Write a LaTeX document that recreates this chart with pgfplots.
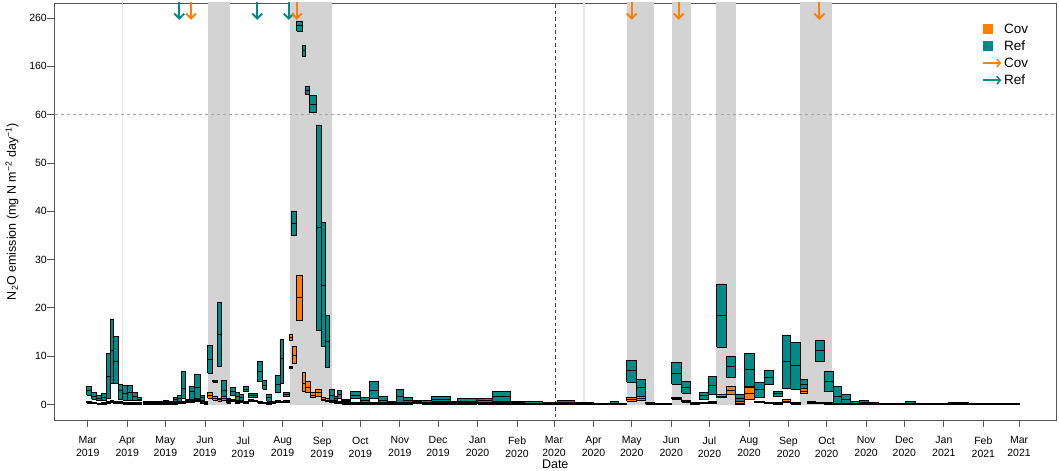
\documentclass[border=0pt]{standalone}
\usepackage{fontspec}
\setmainfont{Liberation Sans}
\usepackage{pgfplots}
\usepackage{pgfplotstable}
\pgfplotsset{compat=1.18}
\usetikzlibrary{arrows.meta,calc}
\definecolor{covc}{HTML}{FF7F00}
\definecolor{refc}{HTML}{008B8B}
\definecolor{bandc}{HTML}{D3D3D3}
\definecolor{axc}{HTML}{555555}

% Ref: start day, end day (days since 1 Mar 2019), lower quartile, median, upper quartile
\pgfplotstableread{
a b lo med hi
-0.8 3.1 1.97 3.00 3.83
3.1 7.1 1.08 1.76 2.44
7.1 11.0 0.79 1.35 1.97
11.0 14.4 0.93 1.55 2.32
14.4 18.1 1.28 5.90 10.6
18.1 20.1 4.39 11.28 17.7
20.1 24.0 4.39 9.0 14.04
24.0 27.5 1.08 3.0 4.18
27.5 31.4 0.93 2.38 3.98
31.4 35.0 0.93 2.44 3.98
35.0 39.2 0.93 1.61 2.44
39.2 42.4 0.79 1.14 1.41
43.4 48.9 0.31 0.5 0.72
48.9 54.4 0.21 0.4 0.62
54.4 59.3 0.31 0.5 0.72
59.3 63.3 0.46 0.7 0.93
63.3 67.2 0.31 0.5 0.72
67.2 70.3 0.58 1.0 1.49
70.3 73.8 0.58 1.28 1.97
73.8 76.4 1.28 3.42 6.79
76.4 79.7 0.41 0.7 0.93
79.7 83.7 1.08 2.65 3.83
83.7 88.1 1.28 3.56 6.21
88.1 91.5 0.93 1.45 1.97
91.5 94.2 0.31 0.5 0.72
94.2 98.1 6.46 9.36 12.17
98.1 102.0 4.60 4.80 5.01
102.0 105.2 7.83 14.6 21.08
105.2 109.1 1.14 3.0 5.07
109.1 111.7 0.31 0.5 0.72
111.7 115.6 1.97 2.80 3.56
115.6 118.8 0.93 1.61 2.44
118.8 122.1 0.93 1.49 2.11
122.1 126.1 2.80 3.2 3.69
126.1 130.0 1.41 1.82 2.32
130.0 133.4 1.41 1.82 2.32
133.4 137.4 4.72 6.94 9.0
137.4 140.5 3.15 4.04 5.07
140.5 144.3 0.72 1.41 2.11
144.3 147.0 0.31 0.5 0.72
147.0 150.9 2.53 4.24 6.11
150.9 153.5 4.39 9.57 13.5
153.5 158.0 1.61 2.11 2.59
158.0 160.4 7.45 7.66 7.87
159.6 164.1 34.95 37.5 40.06
164.1 168.5 233 244 254
168.5 170.5 180 193 204
170.5 174.0 103 111 119
174.0 179.2 65 82 99
179.2 183.1 15.28 36.6 57.87
183.1 186.3 11.97 24.74 37.72
186.3 189.7 7.70 13.0 18.53
189.7 193.3 0.93 1.97 3.15
193.3 196.2 0.93 1.3 1.76
196.2 199.4 1.28 2.07 2.94
199.4 206.4 0.62 0.9 1.14
206.4 214.3 1.24 1.97 2.69
214.3 221.0 0.37 0.9 1.41
221.0 228.1 1.28 3.0 4.72
228.1 235.2 0.1 0.79 1.61
235.2 242.0 0.25 0.4 0.58
242.0 247.7 0.25 1.76 3.15
247.7 255.1 0.37 0.93 1.49
255.1 262.2 0.25 0.5 0.72
262.2 270.0 0.1 0.52 0.93
270.0 284.4 0.58 1.08 1.61
284.4 290.4 0.25 0.4 0.58
290.4 305.2 0.25 0.72 1.28
306.1 317.9 0.37 0.83 1.28
317.9 332.0 0.72 1.61 2.65
332.0 342.5 0.21 0.4 0.58
342.5 356.4 0.1 0.35 0.58
356.4 368.8 0.1 0.3 0.52
368.8 382.1 0.04 0.52 0.93
382.1 396.9 0.04 0.2 0.41
396.9 410.0 0.0 0.15 0.31
410.0 416.3 0.1 0.35 0.62
416.3 423.1 0.0 0.15 0.3
423.1 430.9 4.60 7.0 9.21
430.9 438.0 1.28 3.48 5.28
438.0 444.5 0.04 0.2 0.37
444.5 458.4 0.0 0.1 0.21
458.4 466.2 4.18 6.46 8.65
466.2 473.3 2.32 3.56 4.72
473.3 480.1 0.0 0.25 0.52
480.1 486.7 1.14 1.82 2.53
486.7 493.7 2.11 4.04 5.90
493.7 501.0 11.84 18.53 24.95
501.0 508.1 5.55 7.83 10.04
508.1 515.2 0.46 1.28 2.17
515.2 523.0 3.69 7.29 10.6
523.0 530.9 1.49 3.15 4.60
530.9 538.2 4.24 5.63 7.14
538.2 545.2 1.76 2.32 2.80
545.2 551.8 3.35 8.86 14.39
551.8 559.1 3.15 8.03 12.88
559.1 564.8 2.32 4.18 5.28
564.8 570.9 0.21 0.35 0.52
570.9 577.9 9.0 11.14 13.21
577.9 584.8 2.65 4.72 6.79
584.8 591.8 0.25 1.61 3.69
591.8 598.9 0.25 1.14 2.11
598.9 605.6 0.1 0.3 0.58
605.6 612.7 0.1 0.5 0.93
612.7 620.6 0.0 0.2 0.41
620.6 641.5 0.0 0.1 0.25
641.5 649.4 0.1 0.35 0.62
649.4 675.5 0.0 0.1 0.2
675.5 691.2 0.1 0.25 0.41
691.2 711.0 0.0 0.1 0.2
711.0 731.0 0.0 0.1 0.2
}\reftbl

% Cov
\pgfplotstableread{
a b lo med hi
-0.8 3.1 0.31 0.5 0.72
3.1 7.1 0.21 0.35 0.52
7.1 11.0 0.05 0.15 0.3
11.0 14.4 0.1 0.25 0.41
14.4 18.1 0.21 0.4 0.62
18.1 20.1 0.41 0.6 0.83
20.1 24.0 0.21 0.4 0.62
24.0 27.5 0.31 0.5 0.72
27.5 31.4 0.1 0.3 0.52
31.4 35.0 0.1 0.3 0.52
35.0 39.2 0.1 0.3 0.52
39.2 42.4 0.1 0.25 0.41
43.4 48.9 0.1 0.3 0.52
48.9 54.4 0.1 0.25 0.41
54.4 59.3 0.1 0.3 0.52
59.3 63.3 0.1 0.3 0.52
63.3 67.2 0.1 0.25 0.41
67.2 70.3 0.1 0.3 0.52
70.3 73.8 0.21 0.35 0.52
73.8 76.4 0.31 0.5 0.72
76.4 79.7 0.58 0.85 1.14
79.7 83.7 0.41 0.6 0.83
83.7 88.1 0.58 0.85 1.14
88.1 91.5 0.31 0.5 0.72
91.5 94.2 0.1 0.3 0.52
94.2 98.1 1.28 1.82 2.59
98.1 102.0 0.93 1.28 1.61
102.0 105.2 0.72 1.0 1.35
105.2 109.1 0.93 1.3 1.76
109.1 111.7 0.79 1.0 1.28
111.7 115.6 0.58 0.85 1.14
115.6 118.8 0.31 0.5 0.72
118.8 122.1 0.41 0.6 0.83
122.1 126.1 0.21 0.4 0.62
126.1 130.0 0.58 0.85 1.14
130.0 133.4 0.58 0.75 0.93
133.4 137.4 0.25 0.4 0.58
137.4 140.5 0.21 0.35 0.52
140.5 144.3 0.0 0.25 0.52
144.3 147.0 0.25 0.4 0.58
147.0 150.9 0.37 0.65 0.93
150.9 153.5 0.46 0.6 0.72
153.5 158.0 0.52 0.65 0.79
158.0 160.4 13.2 13.9 14.6
160.4 164.1 8.53 10.25 12.11
164.1 168.5 17.35 22.11 26.81
168.5 171.0 2.65 4.39 6.58
171.0 174.5 2.44 3.56 4.87
174.5 179.0 1.49 1.97 2.44
179.0 183.1 1.61 2.44 3.21
183.1 186.3 0.79 1.1 1.49
186.3 189.4 0.58 0.9 1.28
189.4 193.3 0.41 0.6 0.93
193.3 196.2 0.31 0.5 0.72
196.2 199.4 0.31 0.5 0.72
199.4 206.4 0.1 0.3 0.52
206.4 214.3 0.1 0.3 0.52
214.3 221.0 0.1 0.3 0.52
221.0 228.1 0.1 0.3 0.52
228.1 235.2 0.1 0.3 0.52
235.2 242.0 0.1 0.3 0.52
242.0 247.7 0.1 0.3 0.52
247.7 255.1 0.1 0.3 0.52
255.1 262.2 0.46 0.6 0.79
262.2 270.0 0.1 0.3 0.52
270.0 284.4 0.1 0.3 0.52
284.4 290.4 0.1 0.3 0.41
290.4 305.2 0.1 0.3 0.41
306.1 317.9 0.1 0.3 0.41
317.9 332.0 0.1 0.3 0.41
332.0 342.5 0.1 0.25 0.41
342.5 356.4 0.05 0.2 0.35
356.4 368.8 0.05 0.2 0.35
368.8 382.1 0.05 0.2 0.35
382.1 396.9 0.05 0.15 0.3
396.9 410.0 0.0 0.1 0.25
410.0 416.3 0.05 0.2 0.35
416.3 423.1 0.0 0.1 0.25
423.1 430.9 0.72 1.08 1.41
430.9 438.0 0.93 1.28 1.61
438.0 444.5 0.1 0.3 0.52
444.5 458.4 0.0 0.15 0.31
458.4 466.2 1.08 1.25 1.41
466.2 473.3 0.46 0.7 0.93
473.3 480.1 0.0 0.25 0.52
480.1 486.7 0.21 0.35 0.52
486.7 493.7 0.31 0.5 0.62
493.7 501.0 1.41 1.76 2.11
501.0 508.1 2.17 3.0 3.69
508.1 515.2 0.1 0.3 0.62
515.2 523.0 1.14 2.32 3.56
523.0 530.9 0.37 0.55 0.72
530.9 538.2 0.21 0.35 0.52
538.2 545.2 0.1 0.25 0.41
545.2 551.8 0.46 0.75 1.08
551.8 559.1 0.1 0.25 0.41
559.1 564.8 2.32 2.8 3.35
564.8 570.9 0.31 0.45 0.62
570.9 577.9 0.31 0.4 0.52
577.9 584.8 0.1 0.25 0.41
584.8 598.9 0.0 0.15 0.31
598.9 620.6 0.0 0.1 0.2
620.6 641.5 0.0 0.1 0.2
641.5 675.5 0.0 0.1 0.2
675.5 705.0 0.0 0.1 0.2
705.0 731.0 0.0 0.1 0.2
}\covtbl

\newcommand\drawboxes[2]{%
  \pgfplotstablegetrowsof{#1}%
  \pgfmathtruncatemacro{\nrows}{\pgfplotsretval-1}%
  \pgfplotsinvokeforeach{0,...,\nrows}{%
    \pgfplotstablegetelem{##1}{a}\of{#1}\let\xa\pgfplotsretval
    \pgfplotstablegetelem{##1}{b}\of{#1}\let\xb\pgfplotsretval
    \pgfplotstablegetelem{##1}{lo}\of{#1}\let\vlo\pgfplotsretval
    \pgfplotstablegetelem{##1}{med}\of{#1}\let\vmd\pgfplotsretval
    \pgfplotstablegetelem{##1}{hi}\of{#1}\let\vhi\pgfplotsretval
    \pgfmathsetmacro\ylo{\vlo>60 ? 60+(\vlo-60)/10 : \vlo}%
    \pgfmathsetmacro\ymd{\vmd>60 ? 60+(\vmd-60)/10 : \vmd}%
    \pgfmathsetmacro\yhi{\vhi>60 ? 60+(\vhi-60)/10 : \vhi}%
    \edef\doplot{%
      \noexpand\addplot[#2, forget plot] coordinates {(\xa,\ylo) (\xb,\ylo) (\xb,\yhi) (\xa,\yhi) (\xa,\ylo)};%
      \noexpand\addplot[medline, forget plot] coordinates {(\xa,\ymd) (\xb,\ymd)};%
    }\doplot
  }}

\begin{document}
\begin{tikzpicture}
\begin{axis}[
  scale only axis, width=1002.5pt, height=417pt,
  xmin=-26.45, xmax=760.4, ymin=-3.2, ymax=83.1,
  axis line style={axc, line width=0.8pt},
  tick style={axc, line width=0.8pt},
  tick align=outside, major tick length=7pt, tick pos=left,
  xtick={0,31,61,92,122,153,184,214,245,275,306,337,366,397,427,458,488,519,550,580,611,641,672,703,731},
  xticklabels={{Mar\\2019},{Apr\\2019},{May\\2019},{Jun\\2019},{Jul\\2019},{Aug\\2019},{Sep\\2019},{Oct\\2019},{Nov\\2019},{Dec\\2019},{Jan\\2020},{Feb\\2020},{Mar\\2020},{Apr\\2020},{May\\2020},{Jun\\2020},{Jul\\2020},{Aug\\2020},{Sep\\2020},{Oct\\2020},{Nov\\2020},{Dec\\2020},{Jan\\2021},{Feb\\2021},{Mar\\2021}},
  xticklabel style={align=center, font=\fontsize{10.5}{13}\selectfont, anchor=north, inner sep=0pt, yshift=-9.5pt},
  ytick={0,10,20,30,40,50,60,70,80},
  yticklabels={0,10,20,30,40,50,60,160,260},
  yticklabel style={font=\fontsize{10.5}{12}\selectfont, anchor=east, inner sep=0pt},
  /pgf/number format/assume math mode=true,
  xlabel={Date},
  xlabel style={font=\fontsize{12.5}{15}\selectfont, at={(axis description cs:0.5,-0.1175)}, anchor=base, inner sep=0pt},
  ylabel={N\textsubscript{2}O emission (mg N m\textsuperscript{−2} day\textsuperscript{−1})},
  ylabel style={font=\fontsize{12.5}{15}\selectfont, at={(axis description cs:-0.0419,0.5)}, anchor=center},
  medline/.style={black, line width=0.6pt},
  refbox/.style={fill=refc, draw=black, line width=0.55pt},
  covbox/.style={fill=covc, draw=black, line width=0.55pt},
  legend style={at={(0.926,0.956)}, anchor=north west, draw=none, fill=none,
    font=\fontsize{13.5}{15}\selectfont, row sep=3.8pt, inner sep=0pt,
    nodes={text height=9.5pt, text depth=0pt, inner sep=2pt}},
  legend cell align=left,
]
\coordinate (SW) at (rel axis cs:0,0);
\coordinate (NE) at (rel axis cs:1,1);
% shaded periods
\addplot[fill=bandc, draw=none, forget plot] coordinates {(94.7,0) (111.7,0) (111.7,84) (94.7,84)};
\addplot[fill=bandc, draw=none, forget plot] coordinates {(158.8,0) (191.5,0) (191.5,84) (158.8,84)};
\addplot[fill=bandc, draw=none, forget plot] coordinates {(423.1,0) (444.5,0) (444.5,84) (423.1,84)};
\addplot[fill=bandc, draw=none, forget plot] coordinates {(458.4,0) (473.3,0) (473.3,84) (458.4,84)};
\addplot[fill=bandc, draw=none, forget plot] coordinates {(493.2,0) (508.6,0) (508.6,84) (493.2,84)};
\addplot[fill=bandc, draw=none, forget plot] coordinates {(559.1,0) (584.5,0) (584.5,84) (559.1,84)};
% light vertical lines
\addplot[color=black!9, line width=1.5pt, forget plot] coordinates {(27.5,0) (27.5,84)};
\addplot[color=black!9, line width=1.5pt, forget plot] coordinates {(389.7,0) (389.7,84)};
% reference lines
\addplot[color=black!35, line width=0.7pt, dash pattern=on 3pt off 3pt, forget plot] coordinates {(-30,60) (770,60)};
\addplot[color=black!75, line width=0.8pt, dash pattern=on 3.5pt off 3pt, forget plot] coordinates {(367,-4) (367,84)};
% boxes
\drawboxes{\reftbl}{refbox}
\drawboxes{\covtbl}{covbox}
% arrows
\addplot[refc, line width=1.9pt, -{Straight Barb[length=5pt,width=10pt]}, forget plot] coordinates {(71.9,83.5) (71.9,79.6)};
\addplot[refc, line width=1.9pt, -{Straight Barb[length=5pt,width=10pt]}, forget plot] coordinates {(133.1,83.5) (133.1,79.6)};
\addplot[refc, line width=1.9pt, -{Straight Barb[length=5pt,width=10pt]}, forget plot] coordinates {(157.8,83.5) (157.8,79.6)};
\addplot[covc, line width=1.9pt, -{Straight Barb[length=5pt,width=10pt]}, forget plot] coordinates {(81.1,83.5) (81.1,79.6)};
\addplot[covc, line width=1.9pt, -{Straight Barb[length=5pt,width=10pt]}, forget plot] coordinates {(164.1,83.5) (164.1,79.6)};
\addplot[covc, line width=1.9pt, -{Straight Barb[length=5pt,width=10pt]}, forget plot] coordinates {(427.0,83.5) (427.0,79.6)};
\addplot[covc, line width=1.9pt, -{Straight Barb[length=5pt,width=10pt]}, forget plot] coordinates {(463.9,83.5) (463.9,79.6)};
\addplot[covc, line width=1.9pt, -{Straight Barb[length=5pt,width=10pt]}, forget plot] coordinates {(574.3,83.5) (574.3,79.6)};
% legend
\addlegendimage{legend image code/.code={\fill[covc] (0pt,-4.5pt) rectangle (9pt,4.5pt); \path (18pt,0pt);}}
\addlegendimage{legend image code/.code={\fill[refc] (0pt,-4.5pt) rectangle (9pt,4.5pt); \path (18pt,0pt);}}
\addlegendimage{legend image code/.code={\draw[covc, line width=1.5pt, -{Straight Barb[length=3.5pt,width=8pt]}] (0pt,0pt) -- (18pt,0pt);}}
\addlegendimage{legend image code/.code={\draw[refc, line width=1.5pt, -{Straight Barb[length=3.5pt,width=8pt]}] (0pt,0pt) -- (18pt,0pt);}}
\legend{Cov,Ref,Cov,Ref}
\end{axis}
\pgfresetboundingbox
\path[use as bounding box] ($(SW)+(-54pt,-51pt)$) rectangle ($(NE)+(2.5pt,3pt)$);
\end{tikzpicture}
\end{document}
